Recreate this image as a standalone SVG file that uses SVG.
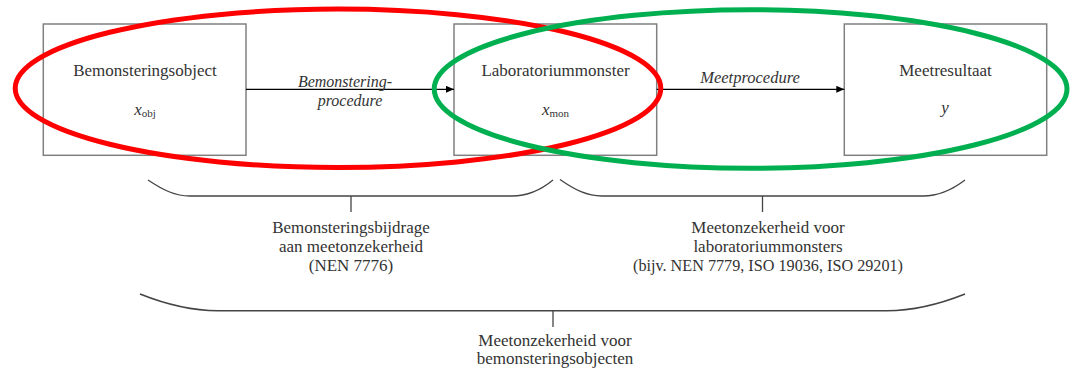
<svg xmlns="http://www.w3.org/2000/svg" width="1070" height="368" viewBox="0 0 1070 368">
<style>
.box{fill:none;stroke:#808080;stroke-width:1.5}
.lbl{font-family:"Liberation Serif","Times New Roman",serif;font-size:17px;fill:#333;text-anchor:middle}
.it{font-style:italic}
.sub{font-size:11px;font-style:normal}
.conn{stroke:#000;stroke-width:1.3;fill:none}
.brace{stroke:#444;stroke-width:1.3;fill:none}
.ell{fill:none;stroke-width:5}
</style>
<defs>
<marker id="arr" markerUnits="userSpaceOnUse" markerWidth="9" markerHeight="8" refX="8" refY="3.5" orient="auto">
<path d="M0,0 L8,3.5 L0,7 z" fill="#000"/>
</marker>
</defs>
<rect width="1070" height="368" fill="#fff"/>

<g id="node-bemonsteringsobject">
<rect class="box" x="43.3" y="24" width="202.7" height="131.3"/>
<text class="lbl" x="145" y="76">Bemonsteringsobject</text>
<text class="lbl" x="145" y="115"><tspan class="it">x</tspan><tspan class="sub" dy="2">obj</tspan></text>
</g>

<g id="node-laboratoriummonster">
<rect class="box" x="454" y="24" width="202.7" height="131.3"/>
<text class="lbl" x="555.5" y="76">Laboratoriummonster</text>
<text class="lbl" x="555.5" y="115"><tspan class="it">x</tspan><tspan class="sub" dy="2">mon</tspan></text>
</g>

<g id="node-meetresultaat">
<rect class="box" x="844.3" y="24" width="202.4" height="131.3"/>
<text class="lbl" x="945.5" y="76">Meetresultaat</text>
<text class="lbl it" x="945" y="113">y</text>
</g>

<g id="connectors">
<line class="conn" x1="246" y1="89.3" x2="454" y2="89.3" marker-end="url(#arr)"/>
<line class="conn" x1="656.7" y1="89.3" x2="844.3" y2="89.3" marker-end="url(#arr)"/>
<text class="lbl it" x="345" y="87" style="font-size:16px">Bemonstering-</text>
<text class="lbl it" x="350" y="106" style="font-size:16px">procedure</text>
<text class="lbl it" x="750" y="83" style="font-size:16.5px">Meetprocedure</text>
</g>

<g id="braces">
<path class="brace" d="M148,180 C163,190 175,196 190,196 L512,196 C528,196 541,190 553,180"/>
<line class="brace" x1="351" y1="196" x2="351" y2="212"/>
<path class="brace" d="M560,179.5 C575,190 587,196 602,196 L923,196 C939,196 952,190 965,180"/>
<line class="brace" x1="762.5" y1="196" x2="762.5" y2="212"/>
<path class="brace" style="stroke-width:1.6" d="M140,294 C165,304 190,310.7 218,310.7 L887,310.7 C915,310.7 940,304 965,294"/>
<line class="brace" x1="553" y1="311" x2="553" y2="327"/>
</g>

<g id="brace-labels">
<text class="lbl" x="351" y="232.5">Bemonsteringsbijdrage</text>
<text class="lbl" x="351" y="251.5">aan meetonzekerheid</text>
<text class="lbl" x="351" y="270.5">(NEN 7776)</text>
<text class="lbl" x="768" y="232.5">Meetonzekerheid voor</text>
<text class="lbl" x="768" y="251.5">laboratoriummonsters</text>
<text class="lbl" x="768" y="270.5" textLength="270" lengthAdjust="spacingAndGlyphs">(bijv. NEN 7779, ISO 19036, ISO 29201)</text>
<text class="lbl" x="555" y="346">Meetonzekerheid voor</text>
<text class="lbl" x="555" y="364">bemonsteringsobjecten</text>
</g>

<g id="ellipses">
<ellipse class="ell" stroke="#ff0000" cx="338" cy="88.3" rx="322.8" ry="79.2"/>
<ellipse class="ell" stroke="#00b050" cx="750.6" cy="89" rx="316.4" ry="79.2"/>
</g>
</svg>
